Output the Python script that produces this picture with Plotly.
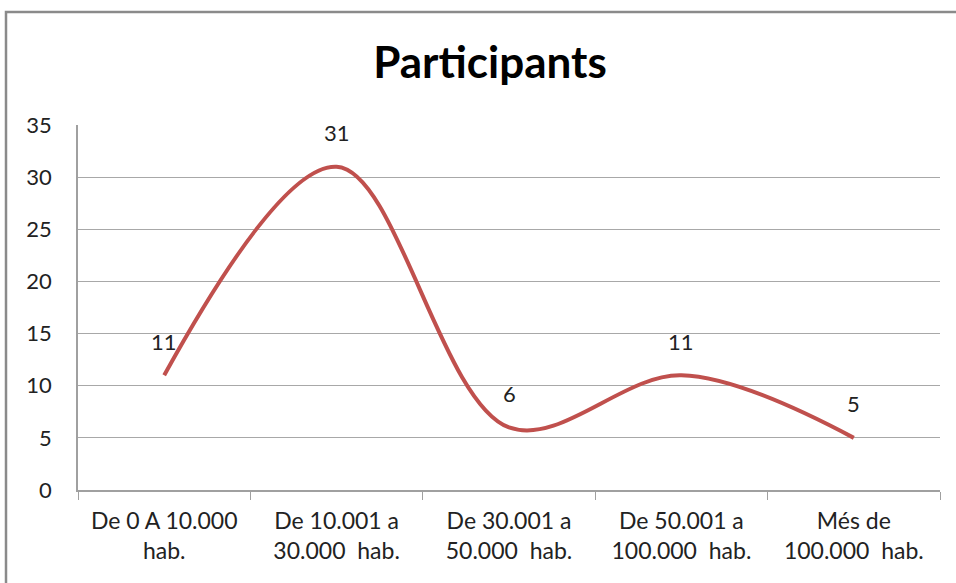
import plotly.graph_objects as go

categories = ["De 0 A 10.000<br>hab.", "De 10.001 a<br>30.000  hab.", "De 30.001 a<br>50.000  hab.",
              "De 50.001 a<br>100.000  hab.", "Més de<br>100.000  hab."]
values = [11, 31, 6, 11, 5]
y_ticks = [0, 5, 10, 15, 20, 25, 30, 35]

FONT = "Lato, Open Sans, sans-serif"
W, H = 956, 583
L, R, T, B = 78, 16, 125, 93
PW, PH = W - L - R, H - T - B

fig = go.Figure()
fig.add_trace(go.Scatter(
    x=categories, y=values, mode="lines",
    line=dict(color="#C0504D", width=4, shape="spline", smoothing=1.0),
    hoverinfo="skip", showlegend=False,
))

for c, v in zip(categories, values):
    fig.add_annotation(x=c, y=v, text=str(v), showarrow=False, yshift=34,
                       font=dict(family=FONT, size=22, color="#222222"))

fig.update_layout(
    width=W, height=H,
    margin=dict(l=L, r=R, t=T, b=B, autoexpand=False),
    paper_bgcolor="white", plot_bgcolor="white",
    title=dict(text="<b>Participants</b>", xref="container", x=490 / W, xanchor="center",
               yref="container", y=1 - 63 / H, yanchor="middle",
               font=dict(family=FONT, size=44, color="#000000")),
    font=dict(family=FONT, size=22, color="#222222"),
    xaxis=dict(type="category", range=[-0.5, 4.5], showgrid=False, showline=True,
               linecolor="#a0a0a0", linewidth=1.5, automargin=False,
               ticks="outside", tickson="boundaries", ticklen=8, tickcolor="#a0a0a0",
               ticklabelstandoff=10,
               tickfont=dict(family=FONT, size=23, color="#222222"), fixedrange=True),
    yaxis=dict(range=[0, 35], tickvals=y_ticks, showgrid=True, gridcolor="#a8a8a8", gridwidth=1.2,
               showline=True, linecolor="#a0a0a0", linewidth=1.5, zeroline=False, automargin=False,
               ticks="", ticklabelstandoff=20,
               tickfont=dict(family=FONT, size=22, color="#222222"), fixedrange=True),
    shapes=[dict(type="rect", xref="paper", yref="paper",
                 x0=(6 - L) / PW, x1=(W + 10 - L) / PW,
                 y0=(H - B - (H + 10)) / PH, y1=(H - B - 12) / PH,
                 line=dict(color="#8a8a8a", width=2.5), fillcolor="rgba(0,0,0,0)", layer="below")],
)

fig.write_html("out.html", config={"displayModeBar": False},
               post_script="document.body.style.margin='0';")
